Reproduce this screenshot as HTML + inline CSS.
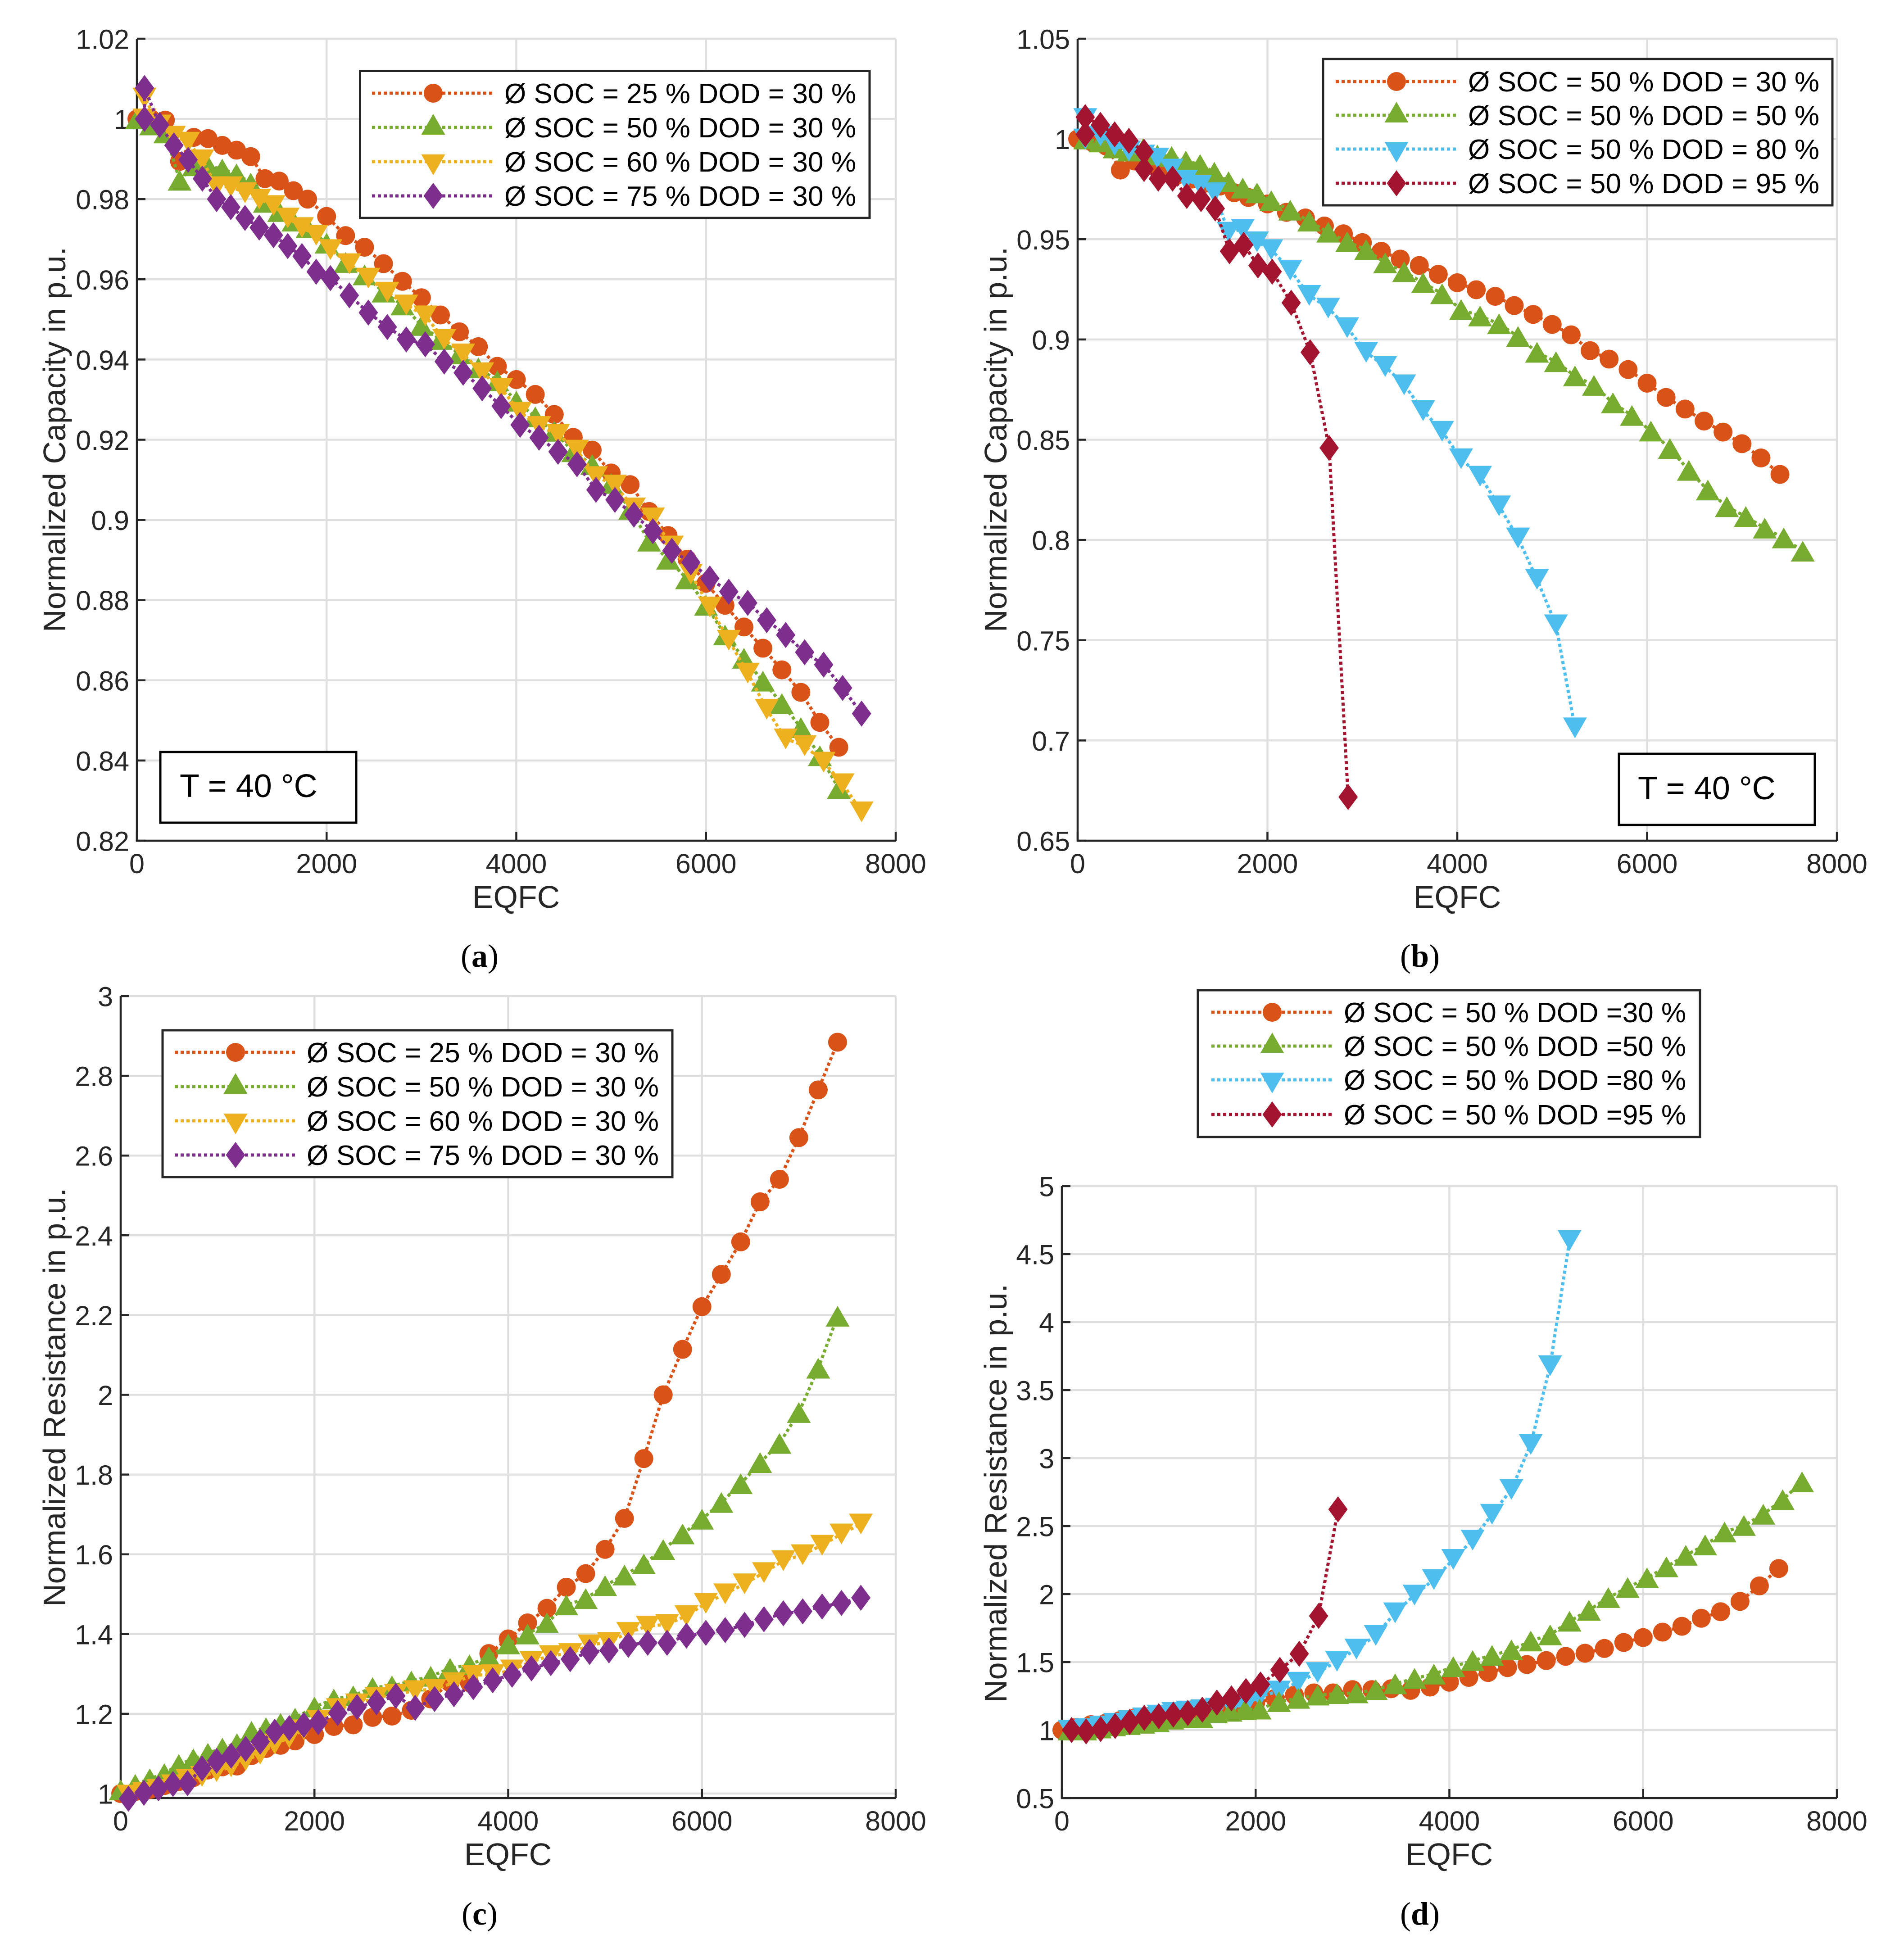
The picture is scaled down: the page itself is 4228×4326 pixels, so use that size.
<!DOCTYPE html>
<html lang="en">
<head>
<meta charset="utf-8">
<title>Capacity and resistance ageing charts</title>
<style>
html,body{margin:0;padding:0;background:#fff}
svg{display:block}
text{font-family:"Liberation Sans",sans-serif;fill:#262626}
.leg{font-size:62px;fill:#000}
.cap{font-family:"Liberation Serif",serif;font-size:72px;fill:#000}
.ttl{font-size:70px}
.tbox{font-size:72px;fill:#000}
</style>
</head>
<body>
<svg id="figure" xmlns="http://www.w3.org/2000/svg" width="4228" height="4326" viewBox="0 0 4228 4326">
<rect width="4228" height="4326" fill="#fff"/>
<g id="plots"></g>

<!-- axis titles -->
<text class="ttl" x="1146" y="2016" text-anchor="middle">EQFC</text>
<text class="ttl" x="3236" y="2016" text-anchor="middle">EQFC</text>
<text class="ttl" x="1128" y="4142" text-anchor="middle">EQFC</text>
<text class="ttl" x="3218" y="4142" text-anchor="middle">EQFC</text>
<text class="ttl" transform="translate(145 976) rotate(-90)" text-anchor="middle">Normalized Capacity in p.u.</text>
<text class="ttl" transform="translate(2235 976) rotate(-90)" text-anchor="middle">Normalized Capacity in p.u.</text>
<text class="ttl" transform="translate(145 3103) rotate(-90)" text-anchor="middle">Normalized Resistance in p.u.</text>
<text class="ttl" transform="translate(2235 3316) rotate(-90)" text-anchor="middle">Normalized Resistance in p.u.</text>

<!-- captions -->
<text class="cap" x="1065" y="2147" text-anchor="middle">(<tspan font-weight="bold">a</tspan>)</text>
<text class="cap" x="3153" y="2147" text-anchor="middle">(<tspan font-weight="bold">b</tspan>)</text>
<text class="cap" x="1065" y="4274" text-anchor="middle">(<tspan font-weight="bold">c</tspan>)</text>
<text class="cap" x="3153" y="4274" text-anchor="middle">(<tspan font-weight="bold">d</tspan>)</text>

<!-- temperature boxes -->
<g>
<rect x="356" y="1670" width="435" height="157" fill="#fff" stroke="#000" stroke-width="5"/>
<text class="tbox" x="399" y="1770">T = 40 °C</text>
</g>
<g>
<rect x="3595" y="1674" width="435" height="158" fill="#fff" stroke="#000" stroke-width="5"/>
<text class="tbox" x="3637" y="1775">T = 40 °C</text>
</g>

<!-- legend a -->
<g>
<rect x="799.5" y="157.5" width="1131.5" height="326.5" fill="#fff" stroke="#262626" stroke-width="5"/>
<g><line x1="826" x2="1098" y1="207" y2="207" stroke="#D95319" stroke-width="7" stroke-dasharray="7 6"/><circle cx="962" cy="207" r="21" fill="#D95319"/><text class="leg" x="1120" y="229" textLength="781">Ø SOC = 25 % DOD = 30 %</text></g>
<g><line x1="826" x2="1098" y1="283" y2="283" stroke="#77AC30" stroke-width="7" stroke-dasharray="7 6"/><path d="M-26.5 16L26.5 16L0-30Z" transform="translate(962 283)" fill="#77AC30"/><text class="leg" x="1120" y="305" textLength="781">Ø SOC = 50 % DOD = 30 %</text></g>
<g><line x1="826" x2="1098" y1="359" y2="359" stroke="#EDB120" stroke-width="7" stroke-dasharray="7 6"/><path d="M-26.5-16L26.5-16L0 30Z" transform="translate(962 359)" fill="#EDB120"/><text class="leg" x="1120" y="381" textLength="781">Ø SOC = 60 % DOD = 30 %</text></g>
<g><line x1="826" x2="1098" y1="435" y2="435" stroke="#7E2F8E" stroke-width="7" stroke-dasharray="7 6"/><path d="M0-29L21.5 0L0 29L-21.5 0Z" transform="translate(962 435)" fill="#7E2F8E"/><text class="leg" x="1120" y="457" textLength="781">Ø SOC = 75 % DOD = 30 %</text></g>
</g>

<!-- legend b -->
<g>
<rect x="2938" y="131" width="1131" height="325" fill="#fff" stroke="#262626" stroke-width="5"/>
<g><line x1="2966" x2="3233" y1="181" y2="181" stroke="#D95319" stroke-width="7" stroke-dasharray="7 6"/><circle cx="3101" cy="181" r="21" fill="#D95319"/><text class="leg" x="3260" y="203" textLength="780">Ø SOC = 50 % DOD = 30 %</text></g>
<g><line x1="2966" x2="3233" y1="256" y2="256" stroke="#77AC30" stroke-width="7" stroke-dasharray="7 6"/><path d="M-26.5 16L26.5 16L0-30Z" transform="translate(3101 256)" fill="#77AC30"/><text class="leg" x="3260" y="278" textLength="780">Ø SOC = 50 % DOD = 50 %</text></g>
<g><line x1="2966" x2="3233" y1="331" y2="331" stroke="#4DBEEE" stroke-width="7" stroke-dasharray="7 6"/><path d="M-26.5-16L26.5-16L0 30Z" transform="translate(3101 331)" fill="#4DBEEE"/><text class="leg" x="3260" y="353" textLength="780">Ø SOC = 50 % DOD = 80 %</text></g>
<g><line x1="2966" x2="3233" y1="407" y2="407" stroke="#A2142F" stroke-width="7" stroke-dasharray="7 6"/><path d="M0-29L21.5 0L0 29L-21.5 0Z" transform="translate(3101 407)" fill="#A2142F"/><text class="leg" x="3260" y="429" textLength="780">Ø SOC = 50 % DOD = 95 %</text></g>
</g>

<!-- legend c -->
<g>
<rect x="361" y="2288" width="1132" height="326" fill="#fff" stroke="#262626" stroke-width="5"/>
<g><line x1="388" x2="661" y1="2337" y2="2337" stroke="#D95319" stroke-width="7" stroke-dasharray="7 6"/><circle cx="523" cy="2337" r="21" fill="#D95319"/><text class="leg" x="681" y="2359" textLength="782">Ø SOC = 25 % DOD = 30 %</text></g>
<g><line x1="388" x2="661" y1="2413" y2="2413" stroke="#77AC30" stroke-width="7" stroke-dasharray="7 6"/><path d="M-26.5 16L26.5 16L0-30Z" transform="translate(523 2413)" fill="#77AC30"/><text class="leg" x="681" y="2435" textLength="782">Ø SOC = 50 % DOD = 30 %</text></g>
<g><line x1="388" x2="661" y1="2489" y2="2489" stroke="#EDB120" stroke-width="7" stroke-dasharray="7 6"/><path d="M-26.5-16L26.5-16L0 30Z" transform="translate(523 2489)" fill="#EDB120"/><text class="leg" x="681" y="2511" textLength="782">Ø SOC = 60 % DOD = 30 %</text></g>
<g><line x1="388" x2="661" y1="2565" y2="2565" stroke="#7E2F8E" stroke-width="7" stroke-dasharray="7 6"/><path d="M0-29L21.5 0L0 29L-21.5 0Z" transform="translate(523 2565)" fill="#7E2F8E"/><text class="leg" x="681" y="2587" textLength="782">Ø SOC = 75 % DOD = 30 %</text></g>
</g>

<!-- legend d -->
<g>
<rect x="2660" y="2199" width="1115" height="326" fill="#fff" stroke="#262626" stroke-width="5"/>
<g><line x1="2690" x2="2957" y1="2248" y2="2248" stroke="#D95319" stroke-width="7" stroke-dasharray="7 6"/><circle cx="2825" cy="2248" r="21" fill="#D95319"/><text class="leg" x="2984" y="2270" textLength="760">Ø SOC = 50 % DOD =30 %</text></g>
<g><line x1="2690" x2="2957" y1="2323" y2="2323" stroke="#77AC30" stroke-width="7" stroke-dasharray="7 6"/><path d="M-26.5 16L26.5 16L0-30Z" transform="translate(2825 2323)" fill="#77AC30"/><text class="leg" x="2984" y="2345" textLength="760">Ø SOC = 50 % DOD =50 %</text></g>
<g><line x1="2690" x2="2957" y1="2398" y2="2398" stroke="#4DBEEE" stroke-width="7" stroke-dasharray="7 6"/><path d="M-26.5-16L26.5-16L0 30Z" transform="translate(2825 2398)" fill="#4DBEEE"/><text class="leg" x="2984" y="2420" textLength="760">Ø SOC = 50 % DOD =80 %</text></g>
<g><line x1="2690" x2="2957" y1="2475" y2="2475" stroke="#A2142F" stroke-width="7" stroke-dasharray="7 6"/><path d="M0-29L21.5 0L0 29L-21.5 0Z" transform="translate(2825 2475)" fill="#A2142F"/><text class="leg" x="2984" y="2497" textLength="760">Ø SOC = 50 % DOD =95 %</text></g>
</g>
</svg>

<script>
// EQFC sample grids
const eqfcEven = [0,150,300,450,600,750,900,1050,1200,1350,1500,1650,1800,2000,2200,2400,2600,2800,3000,3200,3400,3600,3800,4000,4200,4400,4600,4800,5000,5200,5400,5600,5800,6000,6200,6400,6600,6800,7000,7200,7400];
const eqfcOffsetDup = [80,80,240,390,540,690,840,990,1140,1290,1440,1590,1740,1890,2040,2240,2440,2640,2840,3040,3240,3440,3640,3840,4040,4240,4440,4640,4840,5040,5240,5440,5640,5840,6040,6240,6440,6640,6840,7040,7240,7440,7640];
const eqfcOffset = [80,240,390,540,690,840,990,1140,1290,1440,1590,1740,1890,2040,2240,2440,2640,2840,3040,3240,3440,3640,3840,4040,4240,4440,4640,4840,5040,5240,5440,5640,5840,6040,6240,6440,6640,6840,7040,7240,7440,7640];
const eqfcDod95b = [80,80,240,390,540,700,700,850,1000,1150,1300,1450,1600,1750,1900,2050,2250,2450,2650,2850];
const eqfcDod95d = [100,250,400,550,700,850,1000,1150,1300,1450,1600,1750,1900,2050,2250,2450,2650,2850];
const eqfcDod80d = [80,250,400,550,700,850,1000,1150,1300,1450,1600,1750,1900,2040,2240,2440,2640,2840,3040,3240,3440,3640,3840,4040,4240,4440,4640,4840,5040,5240];

// Panel a: capacity vs SOC
const capSoc25 = [1.0,1.0,.9997,.9894,.9954,.9951,.9934,.9922,.9906,.9851,.9845,.9821,.98,.9757,.9709,.968,.9639,.9595,.9554,.9511,.9469,.9432,.9383,.935,.9313,.9263,.9206,.9174,.9117,.9088,.9021,.8961,.8902,.8842,.8787,.8733,.868,.8626,.857,.8495,.8433];
const capSoc50 = [1.0,.9985,.9965,.9847,.9883,.9883,.9875,.9863,.984,.9792,.9769,.9745,.9729,.969,.9642,.9611,.9568,.9536,.9485,.945,.9414,.9379,.9347,.9296,.9257,.9221,.917,.9138,.9091,.9026,.8947,.8902,.8853,.8787,.8713,.8655,.8598,.8542,.8482,.8412,.833];
const capSoc60 = [1.0,1.0052,.9985,.9957,.9942,.9898,.9831,.9831,.9816,.98,.9784,.9753,.9729,.971,.9674,.9639,.9603,.9568,.9536,.9509,.945,.9414,.9367,.9328,.9269,.9233,.9213,.9174,.9108,.9087,.903,.9005,.8935,.8865,.8783,.87,.8618,.8528,.8454,.8437,.8396,.8342,.8272];
const capSoc75 = [1.0,1.0077,.9985,.9934,.9898,.9851,.98,.978,.9753,.9729,.971,.9683,.9658,.9619,.9603,.956,.9517,.9481,.945,.9438,.9395,.9367,.9328,.9284,.9237,.9205,.917,.9139,.9075,.905,.9013,.8972,.8923,.8894,.8854,.8821,.8793,.875,.8713,.867,.8639,.8581,.8517];
const capAYTicks = [1.02,1.0,0.98,0.96,0.94,0.92,0.9,0.88,0.86,0.84,0.82];

// Panel b: capacity vs DOD
const capDod30 = [1.0,.9985,.9965,.9845,.989,.987,.985,.982,.98,.978,.9765,.9732,.9708,.9676,.9634,.9606,.9566,.9527,.9483,.944,.9401,.9369,.9325,.9283,.9248,.9215,.9169,.9125,.9075,.9023,.8944,.8902,.885,.8782,.8711,.8653,.8593,.8538,.848,.8409,.8327];
const capDod50 = [1.0,1.0,.9985,.9955,.994,.9952,.992,.9913,.989,.9873,.9834,.9787,.9755,.9731,.9692,.9645,.959,.9535,.9487,.9448,.9382,.9338,.9283,.9228,.9149,.9117,.9078,.9015,.8936,.8889,.8818,.8771,.8684,.8621,.8543,.8456,.8347,.8249,.8166,.8117,.8059,.801,.7944];
const capDod80 = [1.0,1.0102,1.0015,.9968,.994,.992,.9905,.985,.9795,.977,.9732,.9535,.955,.9487,.9448,.9346,.922,.9157,.9059,.8936,.8865,.8774,.8645,.8542,.8405,.8318,.817,.801,.7804,.7577,.7063];
const capDod95 = [1.0023,1.0109,1.007,1.0023,.9991,.9936,.985,.9802,.9802,.9716,.97,.9653,.944,.9472,.9369,.9338,.9183,.8936,.8459,.6718];
const capBYTicks = [1.05,1.0,0.95,0.9,0.85,0.8,0.75,0.7,0.65];

// Panel c: resistance vs SOC
const resSoc25 = [1.0,1.005,1.01,1.02,1.03,1.04,1.059,1.067,1.069,1.095,1.113,1.121,1.132,1.148,1.1683,1.1723,1.191,1.1942,1.2088,1.2373,1.278,1.278,1.351,1.3877,1.428,1.4646,1.5174,1.5515,1.6124,1.69,1.84,2.0,2.114,2.221,2.302,2.3835,2.484,2.5404,2.645,2.7647,2.8843];
const resSoc50 = [1.009,1.023,1.037,1.05,1.073,1.087,1.101,1.114,1.125,1.156,1.165,1.176,1.189,1.217,1.237,1.245,1.266,1.27,1.282,1.294,1.314,1.323,1.343,1.375,1.4,1.428,1.473,1.489,1.5215,1.548,1.576,1.612,1.651,1.688,1.73,1.777,1.83,1.878,1.9556,2.0666,2.197];
const resSoc60 = [.996,1.003,1.01,1.022,1.035,1.043,1.055,1.067,1.083,1.099,1.124,1.14,1.16,1.184,1.213,1.225,1.241,1.249,1.258,1.262,1.278,1.297,1.298,1.31,1.331,1.346,1.351,1.373,1.379,1.404,1.42,1.424,1.446,1.477,1.501,1.526,1.554,1.584,1.599,1.623,1.651,1.676];
const resSoc75 = [.987,1.002,1.013,1.024,1.026,1.063,1.082,1.095,1.112,1.13,1.155,1.164,1.172,1.179,1.202,1.217,1.229,1.245,1.215,1.237,1.249,1.267,1.284,1.298,1.314,1.327,1.337,1.355,1.359,1.373,1.378,1.378,1.396,1.403,1.41,1.423,1.437,1.452,1.457,1.469,1.478,1.491];
const resCYTicks = [3,2.8,2.6,2.4,2.2,2,1.8,1.6,1.4,1.2,1];

// Panel d: resistance vs DOD
const resDod30 = [1.0,1.02,1.04,1.05,1.07,1.09,1.1,1.11,1.13,1.15,1.16,1.17,1.18,1.2,1.233,1.257,1.273,1.273,1.297,1.297,1.304,1.292,1.316,1.352,1.387,1.423,1.459,1.482,1.511,1.542,1.565,1.6,1.644,1.68,1.72,1.763,1.822,1.87,1.946,2.06,2.188];
const resDod50 = [1.0,1.0,1.015,1.03,1.04,1.05,1.06,1.08,1.09,1.09,1.126,1.138,1.15,1.154,1.209,1.233,1.257,1.268,1.273,1.297,1.34,1.38,1.411,1.466,1.511,1.549,1.589,1.655,1.7,1.8,1.881,1.974,2.048,2.119,2.2,2.285,2.361,2.456,2.504,2.587,2.694,2.825];
const resDod80 = [1.0,1.01,1.03,1.05,1.07,1.09,1.11,1.13,1.14,1.15,1.16,1.17,1.185,1.245,1.287,1.352,1.423,1.506,1.596,1.696,1.862,1.993,2.107,2.255,2.397,2.587,2.77,3.1,3.679,4.6];
const resDod95 = [1.0,.99,1.007,1.03,1.06,1.09,1.102,1.114,1.126,1.15,1.202,1.233,1.287,1.335,1.442,1.561,1.839,2.623];
const resDYTicks = [5,4.5,4,3.5,3,2.5,2,1.5,1,0.5];

const xTicks = [0,2000,4000,6000,8000];

const NS = 'http://www.w3.org/2000/svg';
const plots = document.getElementById('plots');
function mk(tag, parent) {
  const el = document.createElementNS(NS, tag);
  parent.appendChild(el);
  return el;
}
function drawMarker(g, kind, color, px, py) {
  let el;
  if (kind === 'circle') {
    el = mk('circle', g);
    el.setAttribute('cx', px);
    el.setAttribute('cy', py);
    el.setAttribute('r', 21);
  } else {
    el = mk('path', g);
    const d = kind === 'up' ? 'M-26.5 23L26.5 23L0-23Z' : kind === 'down' ? 'M-26.5-23L26.5-23L0 23Z' : 'M0-29L21.5 0L0 29L-21.5 0Z';
    el.setAttribute('d', d);
    el.setAttribute('transform', 'translate(' + px + ' ' + py + ')');
  }
  el.setAttribute('fill', color);
  
  
}
function drawPanel(p) {
  const g = mk('g', plots);
  
  
  const sx = v => p.left + (v / 8000) * (p.right - p.left);
  const sy = v => p.bottom - ((v - p.yMin) / (p.yMax - p.yMin)) * (p.bottom - p.top);

  const grid = mk('g', g);
  
  
  grid.setAttribute('stroke', '#dfdfdf');
  grid.setAttribute('stroke-width', '4.5');
  xTicks.forEach(t => {
    const l = mk('line', grid);
    l.setAttribute('x1', sx(t)); l.setAttribute('x2', sx(t));
    l.setAttribute('y1', p.top); l.setAttribute('y2', p.bottom);
    
    
  });
  p.yTicks.forEach(t => {
    const l = mk('line', grid);
    l.setAttribute('x1', p.left); l.setAttribute('x2', p.right);
    l.setAttribute('y1', sy(t)); l.setAttribute('y2', sy(t));
    
    
  });

  const axes = mk('g', g);
  
  
  axes.setAttribute('stroke', '#262626');
  axes.setAttribute('stroke-width', '4.5');
  const ax = mk('path', axes);
  ax.setAttribute('fill', 'none');
  ax.setAttribute('d', 'M' + p.left + ' ' + p.top + 'L' + p.left + ' ' + p.bottom + 'L' + p.right + ' ' + p.bottom);
  
  
  xTicks.forEach(t => {
    const l = mk('line', axes);
    l.setAttribute('x1', sx(t)); l.setAttribute('x2', sx(t));
    l.setAttribute('y1', p.bottom); l.setAttribute('y2', p.bottom - 20);
    
    
    const tx = mk('text', g);
    tx.textContent = String(t);
    tx.setAttribute('x', sx(t));
    tx.setAttribute('y', p.bottom + 72);
    tx.setAttribute('font-size', '61');
    tx.setAttribute('text-anchor', 'middle');
    
    
  });
  p.yTicks.forEach(t => {
    const l = mk('line', axes);
    l.setAttribute('x1', p.left); l.setAttribute('x2', p.left + 19);
    l.setAttribute('y1', sy(t)); l.setAttribute('y2', sy(t));
    
    
    const tx = mk('text', g);
    tx.textContent = String(t);
    tx.setAttribute('x', p.left - 17);
    tx.setAttribute('y', sy(t) + 22.5);
    tx.setAttribute('font-size', '61');
    tx.setAttribute('text-anchor', 'end');
    
    
  });

  p.series.forEach(s => {
    const sg = mk('g', g);
    
    
    const pts = s.y.map((v, i) => [sx(s.x[i]), sy(v)]);
    const pl = mk('polyline', sg);
    pl.setAttribute('points', pts.map(q => q[0].toFixed(1) + ',' + q[1].toFixed(1)).join(' '));
    pl.setAttribute('fill', 'none');
    pl.setAttribute('stroke', s.color);
    pl.setAttribute('stroke-width', '7');
    pl.setAttribute('stroke-dasharray', '7 6');
    
    
    pts.forEach(q => drawMarker(sg, s.kind, s.color, q[0], q[1]));
  });
}
const ORANGE = '#D95319', GREEN = '#77AC30', YELLOW = '#EDB120', PURPLE = '#7E2F8E', BLUE = '#4DBEEE', RED = '#A2142F';
drawPanel({id:'a', left:304, right:1989, top:86, bottom:1867, yMin:0.82, yMax:1.02, yTicks:capAYTicks, series:[
  {name:'soc-25', x:eqfcEven, y:capSoc25, color:ORANGE, kind:'circle'},
  {name:'soc-50', x:eqfcEven, y:capSoc50, color:GREEN, kind:'up'},
  {name:'soc-60', x:eqfcOffsetDup, y:capSoc60, color:YELLOW, kind:'down'},
  {name:'soc-75', x:eqfcOffsetDup, y:capSoc75, color:PURPLE, kind:'diamond'}
]});
drawPanel({id:'b', left:2393, right:4079, top:86, bottom:1867, yMin:0.65, yMax:1.05, yTicks:capBYTicks, series:[
  {name:'dod-30', x:eqfcEven, y:capDod30, color:ORANGE, kind:'circle'},
  {name:'dod-50', x:eqfcOffsetDup, y:capDod50, color:GREEN, kind:'up'},
  {name:'dod-80', x:eqfcOffsetDup, y:capDod80, color:BLUE, kind:'down'},
  {name:'dod-95', x:eqfcDod95b, y:capDod95, color:RED, kind:'diamond'}
]});
drawPanel({id:'c', left:268, right:1989, top:2212, bottom:3993, yMin:0.9887, yMax:3, yTicks:resCYTicks, series:[
  {name:'soc-25', x:eqfcEven, y:resSoc25, color:ORANGE, kind:'circle'},
  {name:'soc-50', x:eqfcEven, y:resSoc50, color:GREEN, kind:'up'},
  {name:'soc-60', x:eqfcOffset, y:resSoc60, color:YELLOW, kind:'down'},
  {name:'soc-75', x:eqfcOffset, y:resSoc75, color:PURPLE, kind:'diamond'}
]});
drawPanel({id:'d', left:2358, right:4079, top:2634, bottom:3993, yMin:0.5, yMax:5, yTicks:resDYTicks, series:[
  {name:'dod-30', x:eqfcEven, y:resDod30, color:ORANGE, kind:'circle'},
  {name:'dod-80', x:eqfcDod80d, y:resDod80, color:BLUE, kind:'down'},
  {name:'dod-50', x:eqfcOffset, y:resDod50, color:GREEN, kind:'up'},
  {name:'dod-95', x:eqfcDod95d, y:resDod95, color:RED, kind:'diamond'}
]});
</script>
</body>
</html>
